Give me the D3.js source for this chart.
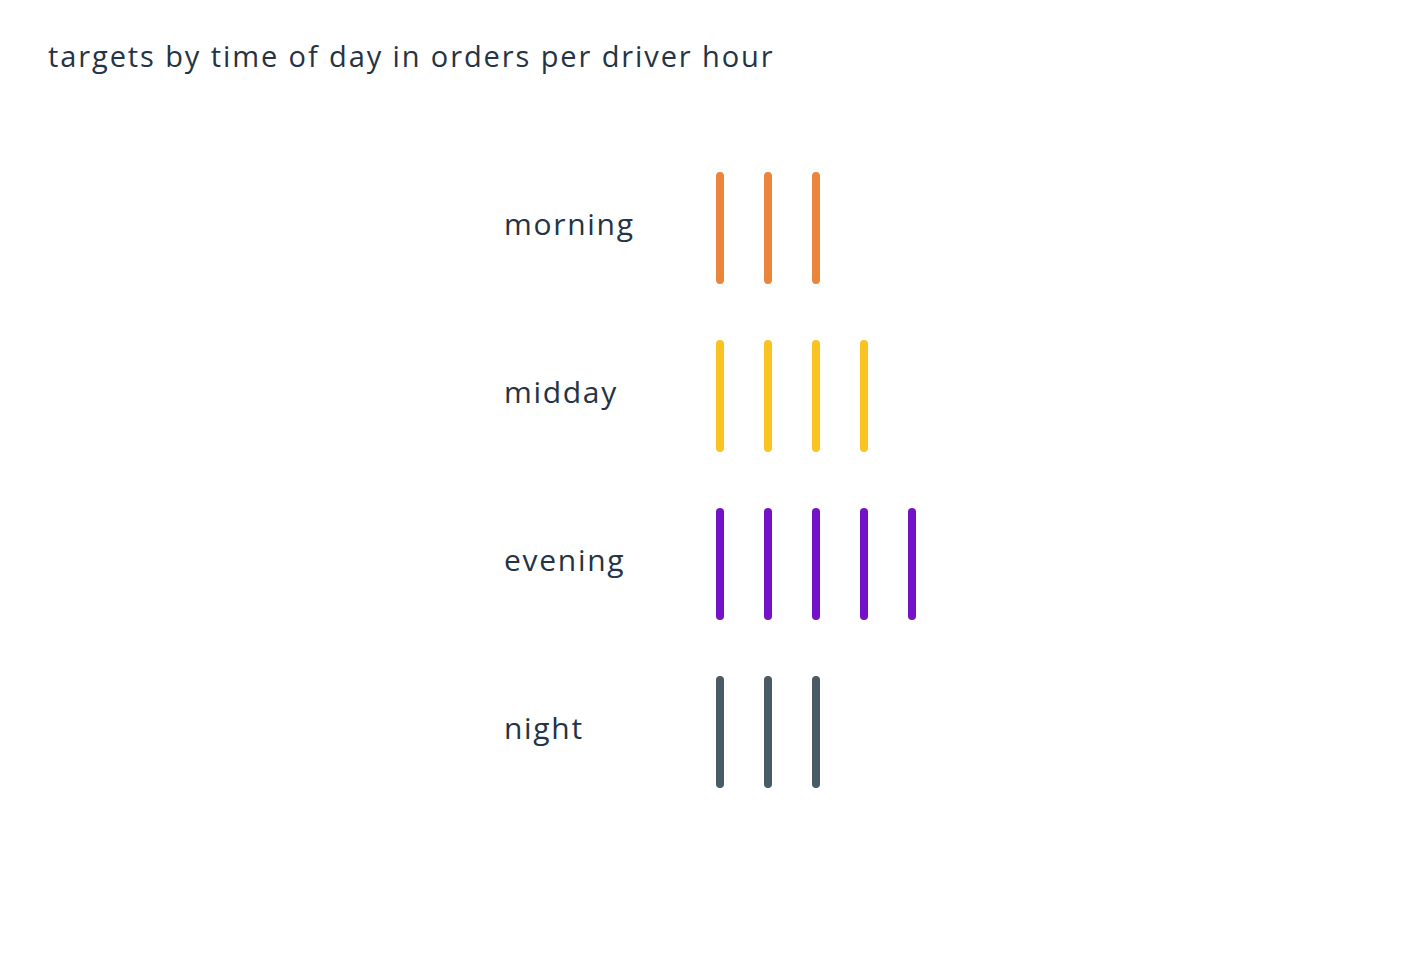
<!DOCTYPE html>
<html>
<head>
<meta charset="utf-8">
<script src="https://cdn.jsdelivr.net/npm/d3@7"></script>
<style>
  html, body { margin: 0; padding: 0; background: #fff; }
  svg { display: block; }
  text { font-family: "Open Sans", "Noto Sans", sans-serif; fill: #253444; }
</style>
</head>
<body>
<svg id="chart" width="1416" height="960"></svg>
<script>
const title = "targets by time of day in orders per driver hour";
const categories = ["morning", "midday", "evening", "night"];
const targets = [3, 4, 5, 3];
const colors = ["#E9863A", "#F8C323", "#7412C7", "#4A5B68"];

const svg = d3.select("#chart");

svg.append("text")
  .attr("x", 48).attr("y", 67)
  .attr("font-size", 29)
  .attr("letter-spacing", 1.9)
  .text(title);

const y = d3.scalePoint().domain(categories).range([228, 732]);
const x = d3.scaleLinear().domain([0, 5]).range([720, 960]);
const markHalf = 52;

const rows = svg.selectAll("g.row")
  .data(categories.map((c, i) => ({cat: c, n: targets[i], color: colors[i]})))
  .join("g").attr("class", "row")
  .attr("transform", d => `translate(0,${y(d.cat)})`);

rows.append("text")
  .attr("x", 504).attr("y", -3).attr("dy", "0.34em")
  .attr("font-size", 30)
  .attr("letter-spacing", 1.7)
  .text(d => d.cat);

rows.selectAll("line")
  .data(d => d3.range(d.n).map(i => ({i, color: d.color})))
  .join("line")
  .attr("x1", d => x(d.i)).attr("x2", d => x(d.i))
  .attr("y1", -markHalf).attr("y2", markHalf)
  .attr("stroke", d => d.color)
  .attr("stroke-width", 8)
  .attr("stroke-linecap", "round");
</script>
</body>
</html>
